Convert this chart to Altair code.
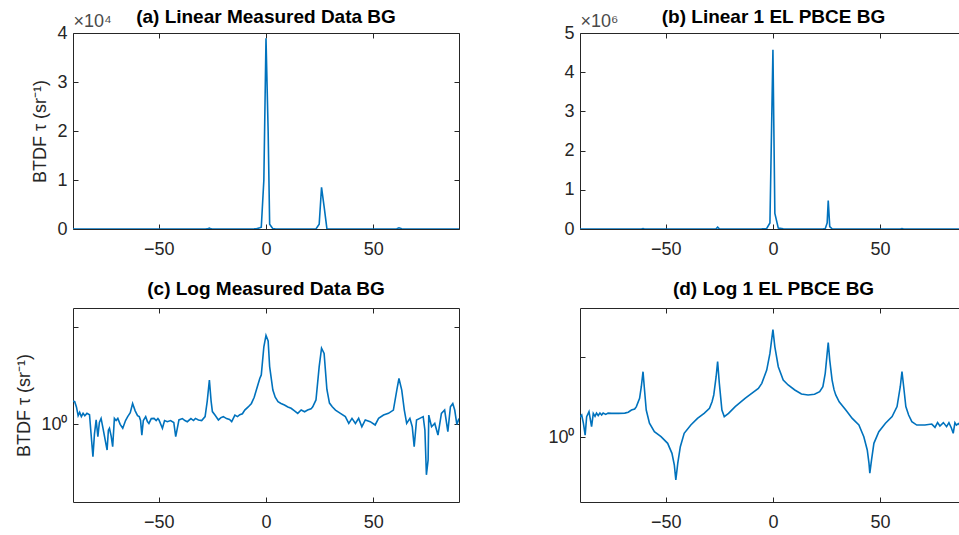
import altair as alt
import pandas as pd

# ---------------- data (angle in degrees, log10 of BTDF) -------------
MEAS_ANGLE = [-90.0, -89.2, -88.4, -87.6, -86.9, -86.1, -85.3, -84.5, -83.5, -82.3, -81.5, -80.7,
              -80.0, -79.2, -78.4, -77.7, -76.9, -76.0, -75.0, -74.1, -73.5, -73.0, -72.2, -71.5,
              -70.7, -69.9, -69.1, -68.0, -66.8, -65.5, -64.5, -63.3, -62.2, -61.0, -59.9, -59.1,
              -58.5, -57.9, -57.2, -56.1, -55.3, -54.6, -53.5, -52.2, -51.2, -50.4, -49.9, -48.3,
              -47.3, -46.0, -44.5, -43.0, -42.1, -40.6, -39.0, -37.8, -36.7, -35.0, -33.8, -32.9,
              -31.5, -30.0, -28.4, -27.4, -26.4, -25.6, -25.0, -23.8, -22.2, -21.0, -19.9, -18.4,
              -17.0, -16.0, -14.5, -13.3, -12.2, -11.0, -9.9, -8.3, -6.8, -5.5, -4.5, -2.9, -2.2,
              -1.0, 0.0, 1.0, 1.7, 3.2, 4.3, 5.6, 7.0, 8.6, 10.2, 11.7, 13.3, 14.8, 16.4, 18.0,
              19.4, 21.0, 21.8, 23.3, 24.8, 25.9, 27.1, 28.4, 29.6, 30.9, 32.4, 34.7, 37.0, 38.6,
              40.1, 41.7, 43.2, 44.7, 46.3, 48.6, 50.9, 52.5, 54.8, 57.1, 59.4, 61.0, 62.0, 63.3,
              64.5, 65.6, 67.1, 68.2, 69.1, 70.2, 71.7, 73.3, 74.1, 74.8, 75.6, 75.9, 77.2, 78.7,
              80.2, 81.8, 83.3, 84.8, 86.0, 87.1, 88.0, 89.0, 90.0]
MEAS_LOG10 = [1.20, 1.17, 0.90, 0.45, 0.62, 0.40, 0.57, 0.45, 0.57, 0.50, -0.60, -1.66,
              -0.50, 0.23, -0.63, 0.10, 0.31, -0.20, -0.80, -1.32, -0.30, -0.20, -0.60, -1.15,
              0.31, 0.20, 0.31, 0.00, -0.20, 0.20, 0.40, 0.60, 1.08, 0.70, 0.45, 0.40,
              0.20, -0.55, 0.20, 0.40, 0.15, 0.05, 0.30, 0.31, 0.20, 0.30, 0.23, -0.20,
              0.20, 0.14, 0.20, 0.10, -0.63, 0.23, 0.30, 0.20, 0.14, 0.30, 0.20, 0.31,
              0.23, 0.20, 0.40, 1.20, 2.29, 1.20, 0.66, 0.48, 0.23, 0.35, 0.40, 0.30,
              0.25, 0.14, 0.48, 0.40, 0.50, 0.55, 0.74, 0.90, 1.08, 1.40, 1.77, 2.37, 2.55,
              4.00, 4.59, 4.30, 2.98, 1.77, 1.40, 1.17, 1.08, 1.00, 0.90, 0.83, 0.70, 0.57, 0.74, 0.65,
              0.74, 0.80, 0.91, 1.26, 2.98, 3.93, 3.66, 1.80, 1.10, 0.91, 0.74, 0.57, 0.40, 0.05,
              0.31, 0.05, 0.31, -0.12, 0.23, 0.14, -0.03, 0.31, 0.48, 0.57, 0.74, 1.77, 2.37, 1.77,
              0.74, 0.05, 0.31, -0.12, -1.15, 0.23, 0.31, 0.40, -0.29, -2.60, -1.83, 0.48, -0.12, 0.05,
              -0.55, 0.57, 0.74, -0.37, 0.91, 1.08, 0.74, 0.00, 0.30]

PBCE_ANGLE = [-90.0, -89.2, -88.4, -87.6, -86.9, -85.8, -84.6, -83.8, -83.0, -82.3, -81.5, -80.7,
              -79.9, -79.2, -78.0, -76.9, -75.3, -72.0, -69.1, -67.5, -66.0, -64.5, -63.7, -62.2,
              -61.4, -60.6, -59.9, -59.1, -57.6, -55.3, -52.2, -49.1, -47.1, -46.0, -45.3, -44.4,
              -43.2, -41.4, -38.3, -35.2, -32.1, -29.6, -28.4, -27.6, -26.5, -25.8, -25.0, -23.8,
              -22.7, -20.7, -17.6, -13.0, -9.9, -6.8, -5.2, -2.9, -1.4, 0.0, 0.9, 2.5, 4.8, 7.1,
              10.2, 13.3, 16.4, 19.4, 21.8, 23.3, 24.4, 25.3, 25.8, 26.5, 27.6, 28.5, 29.3, 30.9,
              34.0, 37.0, 40.1, 42.4, 44.0, 44.8, 45.2, 46.0, 47.1, 49.4, 52.5, 55.6, 57.9, 59.4,
              60.2, 61.0, 62.0, 63.3, 64.8, 67.1, 70.9, 74.1, 75.6, 76.8, 77.9, 79.5, 81.0, 82.1,
              83.3, 84.1, 84.9, 85.6, 86.5, 87.5]
PBCE_LOG10 = [1.25, 1.38, 0.87, 0.14, 1.28, 1.59, 0.66, 1.48, 1.30, 1.50, 1.35, 1.50,
              1.38, 1.50, 1.42, 1.50, 1.48, 1.48, 1.50, 1.55, 1.69, 1.75, 1.90, 2.41,
              3.13, 4.06, 2.93, 1.69, 0.87, 0.35, 0.04, -0.37, -0.99, -1.71, -2.64, -1.61,
              -0.58, 0.25, 0.76, 1.17, 1.48, 1.79, 2.20, 2.62, 3.75, 4.68, 3.34, 1.69,
              1.28, 1.48, 1.90, 2.41, 2.72, 3.03, 3.34, 4.16, 5.19, 6.66, 5.60, 4.37, 3.54, 3.24,
              2.93, 2.68, 2.62, 2.66, 2.82, 3.13, 3.96, 5.19, 5.86, 4.78, 3.54, 2.95, 2.62, 2.20,
              1.69, 1.17, 0.76, 0.04, -0.78, -1.60, -2.22, -1.40, -0.37, 0.35, 0.87, 1.28, 1.90, 3.13,
              4.06, 3.13, 1.90, 1.38, 0.97, 0.76, 0.76, 0.82, 0.62, 0.91, 0.70, 0.91, 0.66, 0.91,
              0.56, 0.25, 0.91, 0.76, 0.85, 0.70]

TITLES = ["(a) Linear Measured Data BG", "(b) Linear 1 EL PBCE BG",
          "(c) Log Measured Data BG", "(d) Log 1 EL PBCE BG"]
X_TICKS = [-50, 0, 50]
Y_TITLE = "BTDF τ (sr⁻¹)"

meas = pd.DataFrame({"angle": MEAS_ANGLE, "btdf": [10 ** v for v in MEAS_LOG10]})
pbce = pd.DataFrame({"angle": PBCE_ANGLE, "btdf": [10 ** v for v in PBCE_LOG10]})

FONT = "Liberation Sans"
AX = "#262626"
LINE = "#0072BD"
INWARD = {"expr": "-5"}


def panel(df, title, width, height, xdom, ydom, ytype, yvals, ylabel_expr,
          exp_text, ytitle, right_axis, title_dx):
    xs = alt.Scale(domain=xdom, nice=False, zero=False)
    if ytype == "log":
        ys = alt.Scale(domain=ydom, type="log", nice=False)
    else:
        ys = alt.Scale(domain=ydom, nice=False, zero=False)

    main = alt.Chart(df).mark_line(color=LINE, strokeWidth=1.6, clip=True).encode(
        x=alt.X("angle:Q", scale=xs,
                axis=alt.Axis(orient="bottom", values=X_TICKS, tickSize=INWARD,
                              labelPadding=16, title=None, labelFlush=False)),
        y=alt.Y("btdf:Q", scale=ys,
                axis=alt.Axis(orient="left", values=yvals, tickSize=INWARD,
                              labelPadding=11, labelExpr=ylabel_expr, title=ytitle,
                              titlePadding=7, labelFlush=False)),
    )
    if exp_text:
        top_axis = alt.Axis(orient="top", values=X_TICKS, tickSize=INWARD, labels=False,
                            title=exp_text, titleAngle=0, titleX=0, titleY=-3,
                            titleAlign="left", titleBaseline="bottom",
                            titleColor="#4a4a4a", titleFontSize=18)
    else:
        top_axis = alt.Axis(orient="top", values=X_TICKS, tickSize=INWARD, labels=False,
                            title=None)
    if right_axis:
        yenc = alt.Y("btdf:Q", scale=ys,
                     axis=alt.Axis(orient="right", values=yvals, tickSize=INWARD,
                                   labels=False, title=None))
    else:
        yenc = alt.Y("btdf:Q", scale=ys, axis=None)
    mirror = alt.Chart(df).mark_line(strokeOpacity=0, clip=True).encode(
        x=alt.X("angle:Q", scale=xs, axis=top_axis),
        y=yenc,
    )
    return alt.layer(main, mirror).resolve_axis(x="independent", y="independent").properties(
        width=width, height=height,
        title=alt.TitleParams(title, fontSize=19, fontWeight="bold", font=FONT, color="#000000",
                              anchor="middle", offset=-15 if exp_text else 9, dx=title_dx),
    )


pa = panel(meas, TITLES[0], 386, 196, [-90, 90], [0, 40000], "linear",
           [0, 10000, 20000, 30000, 40000], "format(datum.value / 10000, 'd')",
           "×10⁴", Y_TITLE, True, 0)
pb = panel(pbce, TITLES[1], 379, 196, [-90, 86.8], [0, 5000000], "linear",
           [0, 1000000, 2000000, 3000000, 4000000, 5000000], "format(datum.value / 1000000, 'd')",
           "×10⁶", None, False, 4)
pc = panel(meas, TITLES[2], 386, 194, [-90, 90], [1e-4, 1e6], "log",
           [1, 100000], "datum.value == 1 ? '10⁰' : ''", None, Y_TITLE, True, 0)
pd_ = panel(pbce, TITLES[3], 379, 194, [-90, 86.8], [1e-4, 1e8], "log",
            [1, 100000], "datum.value == 1 ? '10⁰' : ''", None, None, False, 4)

chart = alt.concat(pa, pb, pc, pd_, columns=2, spacing={"row": 79, "column": 121},
                   bounds="flush").properties(
    padding={"left": 15, "top": 8, "right": 0, "bottom": 0},
    background="white",
).configure_view(stroke=None).configure_axis(
    grid=False, domainColor=AX, tickColor=AX, domainWidth=1, tickWidth=1,
    labelColor=AX, labelFont=FONT, labelFontSize=18,
    titleColor=AX, titleFont=FONT, titleFontSize=18, titleFontWeight="normal",
)

chart.save("out.html", embed_options={"renderer": "svg", "actions": False})
